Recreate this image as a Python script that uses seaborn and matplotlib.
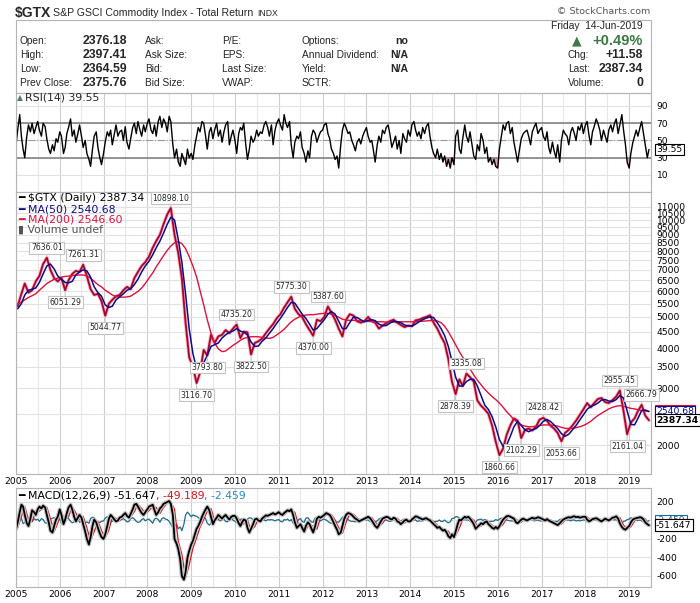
import pandas as pd
import matplotlib
matplotlib.use("Agg")
import matplotlib.pyplot as plt
import matplotlib.dates as mdates
import matplotlib.ticker as mticker
from matplotlib.patches import Rectangle
import seaborn as sns

# ---- data ----
# monthly closes (mid-month), Jan 2005 .. Jun 2019
price = [
    5400, 5900, 6350, 5950, 6050, 6450, 6700, 7300, 7636.01, 7000, 6600, 6450,
    6600, 6051.29, 6500, 6800, 6950, 6900, 7261.31, 6700, 6100, 5850, 5900, 5600,
    5044.77, 5500, 5650, 5800, 5850, 6050, 6200, 6100, 6600, 6900, 7200, 7400,
    7700, 8200, 8600, 9000, 9700, 10400, 10898.10, 9000, 7900, 6600, 4800, 3750,
    3500, 3116.70, 3350, 3950, 3793.80, 4400, 4150, 4350, 4400, 4550, 4450, 4600,
    4735.20, 4300, 4500, 4480, 3822.50, 4150, 4200, 4280, 4450, 4600, 4750, 4950,
    5100, 5350, 5550, 5775.30, 5300, 5100, 5000, 4750, 4550, 4370.00, 4900, 4850,
    5000, 5387.60, 5150, 4900, 4600, 4350, 4900, 5100, 5050, 4850, 4800, 4850,
    5000, 4850, 4800, 4600, 4700, 4780, 4850, 4900, 4800, 4720, 4650, 4700,
    4680, 4880, 4900, 4960, 5000, 5060, 4800, 4600, 4350, 4150, 3700, 3150,
    2878.39, 3200, 3050, 3335.08, 3250, 3150, 2750, 2650, 2580, 2500, 2300, 2050,
    1860.66, 1950, 2150, 2300, 2420, 2380, 2102.29, 2230, 2250, 2220, 2280, 2400,
    2428.42, 2380, 2300, 2250, 2180, 2053.66, 2180, 2230, 2300, 2380, 2480, 2580,
    2700, 2620, 2700, 2780, 2800, 2720, 2700, 2760, 2830, 2955.45, 2550, 2161.04,
    2350, 2420, 2550, 2666.79, 2470, 2387.34,
]
ma50 = [
    5300, 5500, 5850, 6050, 6100, 6150, 6400, 6800, 7200, 7300, 7050, 6700,
    6550, 6400, 6380, 6450, 6750, 6900, 7000, 6950, 6650, 6200, 5950, 5800,
    5450, 5350, 5400, 5650, 5770, 5900, 6050, 6120, 6300, 6550, 6900, 7200,
    7450, 7800, 8200, 8600, 9100, 9700, 10200, 10000, 8700, 7400, 5900, 4600,
    3850, 3450, 3350, 3600, 3800, 4050, 4100, 4150, 4300, 4400, 4480, 4520,
    4600, 4520, 4480, 4400, 4180, 4050, 4060, 4200, 4300, 4450, 4600, 4780,
    4950, 5150, 5350, 5550, 5520, 5300, 5100, 4950, 4750, 4550, 4600, 4750,
    4900, 5100, 5200, 5100, 4850, 4600, 4600, 4800, 5000, 4980, 4900, 4830,
    4880, 4900, 4870, 4750, 4700, 4700, 4780, 4850, 4830, 4800, 4720, 4690,
    4680, 4750, 4830, 4900, 4960, 5000, 4980, 4800, 4600, 4380, 4050, 3650,
    3250, 3050, 3050, 3150, 3200, 3200, 3050, 2850, 2660, 2580, 2450, 2280,
    2080, 1980, 2000, 2130, 2280, 2370, 2300, 2230, 2200, 2230, 2250, 2300,
    2370, 2400, 2370, 2310, 2250, 2170, 2130, 2160, 2230, 2300, 2390, 2480,
    2580, 2640, 2660, 2700, 2760, 2770, 2740, 2730, 2770, 2850, 2800, 2550,
    2320, 2310, 2420, 2560, 2570, 2540.68,
]
ma200 = [
    5500, 5550, 5650, 5750, 5820, 5900, 6050, 6200, 6350, 6450, 6550, 6600,
    6650, 6680, 6700, 6720, 6740, 6750, 6750, 6700, 6600, 6450, 6300, 6200,
    6050, 5950, 5850, 5780, 5760, 5760, 5770, 5800, 5900, 6000, 6150, 6350,
    6600, 6850, 7150, 7450, 7750, 8050, 8300, 8500, 8560, 8450, 8150, 7700,
    7200, 6650, 6050, 5450, 4900, 4450, 4150, 3980, 3900, 3920, 4000, 4080,
    4150, 4230, 4290, 4320, 4340, 4340, 4340, 4320, 4300, 4290, 4320, 4400,
    4480, 4580, 4700, 4830, 4920, 4990, 5040, 5070, 5080, 5080, 5100, 5120,
    5130, 5130, 5100, 5050, 4990, 4920, 4890, 4880, 4880, 4870, 4860, 4850,
    4840, 4840, 4830, 4830, 4830, 4820, 4820, 4820, 4830, 4830, 4830, 4830,
    4830, 4830, 4840, 4850, 4860, 4870, 4870, 4860, 4800, 4680, 4500, 4300,
    4100, 3900, 3750, 3600, 3450, 3300, 3180, 3080, 2980, 2900, 2830, 2770,
    2700, 2620, 2540, 2470, 2400, 2350, 2310, 2290, 2280, 2280, 2290, 2300,
    2310, 2310, 2310, 2300, 2290, 2270, 2255, 2250, 2255, 2265, 2280, 2300,
    2330, 2370, 2420, 2470, 2510, 2550, 2590, 2620, 2640, 2650, 2640, 2620,
    2600, 2590, 2575, 2560, 2550, 2546.60,
]
macd_signal = [
    -80, 40, 150, 10, -10, 95, 100, 140, 145, 20, -120, -30,
    80, 10, 40, 150, 80, 10, 45, -80, -220, -120, -10, -110,
    -190, -100, 40, 25, -5, 35, 70, 40, 95, 175, 130, 70,
    105, 155, 140, 75, 140, 185, 205, 120, -225, -365, -620, -480,
    -300, -185, -75, 10, 100, 130, 0, 15, 50, 35, 45, 25,
    50, -5, -40, 5, -105, -65, 15, -5, 30, 52, 65, 72,
    82, 65, 88, 105, 90, -50, -50, -100, -40, -65, -95, 30,
    38, 70, 65, 5, -80, -140, -20, 70, 68, 30, 0, 5,
    25, 32, -15, -70, -30, 25, 38, 15, 25, -15, -30, 5,
    -10, 20, 42, 25, 15, 17, -10, -50, -75, -100, -115, -180,
    -165, -80, 5, 30, 35, 5, -65, -60, -35, -15, -50, -85,
    -80, -40, 20, 48, 35, 0, -20, 15, 5, 15, 25, 30,
    25, 5, 8, -15, -35, -40, 0, 25, 32, 42, 38, 32,
    40, 0, 8, 22, 8, -2, 15, 8, 32, 32, -50, -95,
    -70, -5, 22, 32, 20, -49.189,
]

# semi-monthly readings (1st and 15th), Jan 2005 .. Jun 2019
rsi = [
    45, 62, 80, 55, 40, 30, 55, 68, 60, 70, 58, 65, 72, 62, 55, 70, 66, 52, 40, 35, 45, 38, 52, 48,
    60, 55, 35, 42, 58, 65, 75, 55, 62, 48, 58, 68, 55, 42, 50, 35, 28, 20, 40, 55, 60, 42, 30, 22,
    35, 48, 60, 55, 62, 45, 58, 68, 55, 60, 62, 50, 66, 48, 40, 52, 65, 70, 58, 72, 62, 55, 68, 60,
    70, 75, 62, 58, 68, 55, 72, 78, 65, 75, 70, 60, 78, 72, 45, 30, 40, 25, 20, 35, 28, 22, 40, 30,
    35, 28, 45, 55, 65, 60, 72, 70, 55, 40, 60, 65, 52, 62, 70, 55, 62, 48, 60, 68, 72, 45, 55, 62,
    50, 35, 58, 65, 62, 70, 45, 28, 40, 55, 48, 52, 62, 55, 60, 58, 68, 72, 65, 55, 68, 45, 62, 70,
    75, 68, 62, 80, 70, 65, 72, 45, 30, 48, 55, 52, 60, 42, 35, 25, 38, 30, 55, 62, 58, 48, 55, 60,
    62, 68, 70, 58, 52, 40, 35, 28, 32, 18, 45, 62, 70, 65, 58, 60, 50, 45, 38, 48, 52, 46, 55, 60,
    65, 55, 48, 50, 38, 25, 45, 55, 48, 62, 58, 65, 68, 58, 42, 48, 55, 40, 50, 35, 58, 52, 48, 62,
    55, 68, 72, 62, 55, 60, 52, 65, 58, 66, 70, 55, 42, 35, 30, 40, 28, 35, 25, 32, 20, 28, 18, 30,
    22, 55, 62, 40, 35, 52, 68, 55, 48, 60, 45, 32, 28, 45, 38, 58, 50, 35, 42, 25, 30, 22, 28, 20,
    18, 40, 55, 68, 62, 70, 72, 58, 65, 48, 35, 25, 40, 52, 58, 60, 62, 55, 45, 60, 66, 70, 58, 62,
    65, 55, 50, 60, 42, 35, 48, 38, 30, 45, 25, 50, 62, 58, 55, 45, 60, 65, 58, 50, 66, 62, 70, 58,
    68, 72, 55, 45, 60, 66, 75, 70, 62, 50, 62, 55, 48, 62, 68, 60, 70, 75, 58, 68, 80, 62, 45, 25,
    18, 35, 48, 55, 62, 55, 65, 72, 58, 45, 30, 39.55,
]
macd = [
    -95, -20, 90, 170, 150, 60, -30, -60, 20, 110, 90, 60, 120, 150, 130, 160, 140, 60, -20, -110, -130, -60, 10, 40,
    120, 60, -40, 10, 80, 140, 170, 120, 40, -10, 30, 60, 30, -40, -120, -200, -260, -180, -60, 10, -20, -80, -140, -180,
    -200, -150, -60, 20, 60, 40, 10, -10, 0, 30, 40, 60, 80, 50, 30, 70, 120, 170, 180, 150, 110, 80, 60, 90,
    120, 150, 160, 170, 110, 60, 90, 130, 150, 180, 190, 200, 210, 180, 60, -200, -250, -310, -420, -600, -640, -560, -400, -330,
    -260, -220, -150, -90, -60, -20, 40, 80, 120, 150, 110, 40, -40, 0, 30, 60, 40, 20, 45, 60, 30, 10, 40, 50,
    50, 20, -30, -60, -20, 10, 0, -80, -130, -90, -40, 10, 20, 0, -10, 20, 40, 55, 50, 60, 70, 80, 65, 75,
    90, 70, 60, 80, 95, 110, 100, 120, 60, -20, -80, -60, -40, -80, -120, -60, -20, -40, -90, -130, -60, 20, 40, 30,
    45, 60, 80, 70, 60, 30, -20, -60, -100, -150, -130, -60, 20, 60, 80, 75, 60, 40, 20, 10, -10, 0, 10, 20,
    30, 40, 25, 0, -30, -60, -80, -50, -10, 20, 30, 40, 35, 20, 10, 30, 20, -10, -20, -40, -20, 0, 10, -10,
    -10, 10, 30, 45, 40, 30, 20, 10, 20, 25, 10, 0, -20, -40, -60, -80, -70, -90, -110, -100, -130, -170, -190, -150,
    -180, -120, -40, 10, 0, 20, 40, 30, 40, 20, -10, -40, -90, -70, -50, -30, -40, -20, -10, -40, -60, -80, -90, -70,
    -90, -60, -20, 10, 30, 45, 50, 40, 30, 20, -20, -30, -10, 10, 20, 10, 0, 10, 20, 30, 20, 25, 35, 30,
    20, 10, 0, 15, 0, -10, -20, -30, -40, -50, -30, -10, 10, 20, 30, 35, 30, 40, 45, 35, 40, 30, 35, 40,
    40, 10, -10, 0, 15, 20, 25, 15, 0, -10, 5, 20, 10, 0, 15, 30, 35, 45, 20, -30, -70, -90, -100, -80,
    -60, -20, 10, 20, 25, 30, 35, 30, 10, -20, -40, -51.647,
]
macd_hist = [
    -20, 30, 40, 25, -35, -20, 15, 30, 10, -15, 20, 5, 15, -10, 20, 10, -25, -30, -20, 15, 25, 30, 10, 5,
    20, -25, -30, 15, 30, 20, -10, -25, -15, 10, 15, -20, -10, -30, -25, -15, -30, 20, 35, 30, -15, -25, -20, -10,
    -5, 25, 40, 10, -15, -10, 10, 5, -10, 15, 10, 20, 5, -15, -10, 20, 30, 15, -10, -20, -15, 10, 20, -5,
    10, 15, -10, -30, 15, 25, 10, -20, 20, 30, 15, 10, -10, -40, -80, -60, -40, -90, -70, -110, -40, 60, 90, 70,
    40, 60, 50, 45, 30, 20, 40, 35, 20, -30, -50, -30, 10, 25, 15, 10, -5, 5, 15, -10, -15, 10, 20, 5,
    -10, -20, -15, 10, 20, -30, -35, 15, 30, 25, 10, 15, -5, 5, 10, 15, 5, -5, 10, 5, 10, 5, -5, 5,
    10, -10, -15, 10, 5, 15, -5, 10, -30, -40, -25, 10, 20, -10, -20, 25, 30, 5, -15, -20, 30, 35, 10, -5,
    10, 15, 5, -10, -25, -30, -20, -25, -15, -20, 10, 35, 45, 20, 10, -5, -10, -10, -15, -10, -10, 5, 5, 10,
    5, 5, -10, -15, -20, -15, -5, 15, 25, 20, 5, 5, -5, -10, -5, 10, -5, -15, -10, -10, 10, 15, 5, -10,
    0, 10, 10, 5, -10, -5, -5, -5, 5, 5, -5, -10, -15, -15, -10, -10, 5, -10, -10, 5, -15, -25, -15, 20,
    25, 40, 40, 25, 5, 0, 10, 5, 5, -10, -20, -25, -20, 5, 10, 15, 0, 10, 5, -15, -10, -10, -5, 10,
    0, 15, 25, 20, 15, 5, 0, -5, -5, -10, -25, -15, 5, 15, 10, -5, -5, 0, 5, 10, -5, 0, 5, -5,
    -5, -5, -5, 10, -5, -10, -10, -10, -10, -10, 10, 15, 15, 10, 5, 5, -5, 5, 5, -5, 0, -5, 0, 5,
    5, -15, -10, 5, 5, 0, 5, -5, -10, -10, 5, 10, -5, -5, 10, 15, 5, 10, -15, -35, -30, -10, -5, 10,
    15, 30, 20, 5, 5, 0, 5, -5, -15, -20, -10, -2.459,
]

# labelled swing points on the price line
swing_values = [7636.01, 6051.29, 7261.31, 5044.77, 10898.10, 3116.70, 3793.80,
                4735.20, 3822.50, 5775.30, 4370.00, 5387.60, 2878.39, 3335.08,
                1860.66, 2102.29, 2428.42, 2053.66, 2955.45, 2161.04, 2666.79]
swing_is_high = [True, False, True, False, True, False, False,
                 True, False, True, False, True, False, True,
                 False, False, True, False, True, False, True]

price_ticks = [2000, 2500, 3000, 3500, 4000, 4500, 5000, 5500, 6000, 6500, 7000,
               7500, 8000, 8500, 9000, 9500, 10000, 10500, 11000]

months = pd.date_range("2005-01-01", "2019-06-01", freq="MS") + pd.Timedelta(days=14)
halfmonths = pd.date_range("2005-01-01", "2019-06-15", freq="SMS")

df_m = pd.DataFrame({"date": months, "price": price, "ma50": ma50,
                     "ma200": ma200, "signal": macd_signal})
df_h = pd.DataFrame({"date": halfmonths, "rsi": rsi, "macd": macd, "hist": macd_hist})

# ---- figure ----
sns.set_style("white")
plt.rcParams["font.family"] = ["DejaVu Sans"]

W, H = 700, 603
fig = plt.figure(figsize=(7, 6.03), dpi=100)


def rect(x0, y0, x1, y1):
    return [x0 / W, 1 - y1 / H, (x1 - x0) / W, (y1 - y0) / H]


def ftext(x, y, s, **kw):
    kw.setdefault("va", "center")
    return fig.text(x / W, 1 - y / H, s, **kw)


ax_rsi = fig.add_axes(rect(16, 93, 651, 192))
ax_px = fig.add_axes(rect(16, 192, 651, 474))
ax_macd = fig.add_axes(rect(16, 488, 651, 587))

GRID = "#e2e2e2"
FRAME = "#b4b4b4"
xmin = mdates.date2num(pd.Timestamp("2005-01-01"))
xmax = mdates.date2num(pd.Timestamp("2019-07-02"))

for ax in (ax_rsi, ax_px, ax_macd):
    ax.set_axisbelow(True)
    for sp in ax.spines.values():
        sp.set_color(FRAME)
        sp.set_linewidth(0.8)

# RSI panel
sns.lineplot(data=df_h, x="date", y="rsi", ax=ax_rsi, color="black", lw=1.0, estimator=None)
ax_rsi.fill_between(df_h["date"], df_h["rsi"], 30, where=df_h["rsi"] < 30,
                    interpolate=True, color="#e3a3b3", lw=0)
ax_rsi.axhline(70, color="#7a7a7a", lw=1.1, zorder=1)
ax_rsi.axhline(30, color="#7a7a7a", lw=1.1, zorder=1)
ax_rsi.axhline(50, color="#9a9a9a", lw=0.8, ls="-.", zorder=1)
ax_rsi.set_ylim(-9.7, 105)
ax_rsi.set_yticks([90, 70, 50, 30, 10])

# price panel
sns.lineplot(data=df_m, x="date", y="price", ax=ax_px, color="#f5cbd6", lw=2.8, estimator=None)
sns.lineplot(data=df_m, x="date", y="price", ax=ax_px, color="#d3123f", lw=1.5, estimator=None)
sns.lineplot(data=df_m, x="date", y="price", ax=ax_px, color="#2a0a10", lw=0.35,
             alpha=0.8, estimator=None)
sns.lineplot(data=df_m, x="date", y="ma200", ax=ax_px, color="#e0103c", lw=1.0, estimator=None)
sns.lineplot(data=df_m, x="date", y="ma50", ax=ax_px, color="#0b0b8f", lw=1.1, estimator=None)
ax_px.set_yscale("log")
ax_px.set_ylim(1626, 12220)
ax_px.yaxis.set_major_locator(mticker.FixedLocator(price_ticks))
ax_px.yaxis.set_major_formatter(mticker.FixedFormatter(
    ["" if v == 2500 else str(v) for v in price_ticks]))
ax_px.yaxis.set_minor_locator(mticker.NullLocator())

for v, hi in zip(swing_values, swing_is_high):
    d = mdates.date2num(months[price.index(v)])
    ax_px.annotate(f"{v:.2f}", xy=(d, v), xytext=(0, 10 if hi else -12),
                   textcoords="offset pixels", ha="center", va="center", fontsize=5.6,
                   bbox=dict(boxstyle="square,pad=0.18", fc="white", ec="#c4c4c4", lw=0.8),
                   arrowprops=dict(arrowstyle="-", color="#c4c4c4", lw=0.8,
                                   shrinkA=0, shrinkB=1), zorder=6)

# MACD panel
sns.lineplot(data=df_h, x="date", y="hist", ax=ax_macd, color="#1f6b8e", lw=0.9, estimator=None)
sns.lineplot(data=df_m, x="date", y="signal", ax=ax_macd, color="#e01020", lw=0.9, estimator=None)
sns.lineplot(data=df_h, x="date", y="macd", ax=ax_macd, color="#c4c4c4", lw=3.0, estimator=None)
sns.lineplot(data=df_h, x="date", y="macd", ax=ax_macd, color="black", lw=1.3, estimator=None)
ax_macd.set_ylim(-719, 351)
ax_macd.set_yticks([200, 0, -200, -400, -600])
ax_macd.set_yticklabels(["200", "", "-200", "-400", "-600"])

for ax in (ax_rsi, ax_px, ax_macd):
    ax.set_xlim(xmin, xmax)
    ax.set_xlabel("")
    ax.set_ylabel("")
    ax.xaxis.set_major_locator(mdates.YearLocator())
    ax.xaxis.set_minor_locator(mdates.MonthLocator(bymonth=7))
    ax.xaxis.set_major_formatter(mdates.DateFormatter("%Y"))
    ax.yaxis.tick_right()
    ax.tick_params(axis="both", which="both", length=0, labelsize=6.6, colors="black")
    ax.tick_params(axis="y", pad=4)
    ax.tick_params(axis="x", pad=2)
    ax.grid(True, axis="x", which="major", color="#cdcdcd", lw=0.8)
    ax.grid(True, axis="x", which="minor", color="#e8e8e8", lw=0.8)
    ax.grid(True, axis="y", which="major", color=GRID, lw=0.8)
ax_rsi.tick_params(axis="x", labelbottom=False)


# value tags at the right edge
def tag(ax, val, text, ec, color, weight="normal", z=7):
    ax.annotate(text, xy=(1, val), xycoords=ax.get_yaxis_transform(), xytext=(5, 0),
                textcoords="offset pixels", ha="left", va="center", fontsize=6.7,
                color=color, fontweight=weight, zorder=z, annotation_clip=False,
                bbox=dict(boxstyle="square,pad=0.15", fc="white", ec=ec, lw=0.8))


tag(ax_rsi, rsi[-1], f"{rsi[-1]:.2f}", "black", "black")
tag(ax_px, ma200[-1], f"{ma200[-1]:.2f}", "#e0103c", "#e0103c", z=7)
tag(ax_px, ma50[-1], f"{ma50[-1]:.2f}", "#0b0b8f", "#0b0b8f", z=8)
tag(ax_px, price[-1], f"{price[-1]:.2f}", "black", "black", weight="bold", z=9)
tag(ax_macd, macd_hist[-1], f"{macd_hist[-1]:.3f}", "#1f6b8e", "#1f6b8e", z=7)
tag(ax_macd, macd_signal[-1], f"{macd_signal[-1]:.3f}", "#e01020", "#e01020", z=8)
tag(ax_macd, macd[-1], f"{macd[-1]:.3f}", "black", "black", z=9)

# panel legends
ftext(17, 98, "▲", color="#4f7f5c", fontsize=5.5)
ftext(25, 98, f"RSI(14) {rsi[-1]:.2f}", fontsize=7.8)
ftext(18, 198, f"━ $GTX (Daily) {price[-1]:.2f}", fontsize=7.8, color="black")
ftext(18, 209, f"━ MA(50) {ma50[-1]:.2f}", fontsize=7.8, color="#0b0b8f")
ftext(18, 219.5, f"━ MA(200) {ma200[-1]:.2f}", fontsize=7.8, color="#e0103c")
ftext(18, 230, "▮ Volume undef", fontsize=7.8, color="#555555")
t1 = ftext(18, 496, f"━ MACD(12,26,9) {macd[-1]:.3f}", fontsize=7.8, color="black")
t2 = ax_macd.annotate(f", {macd_signal[-1]:.3f}", xy=(1, 0), xycoords=t1, ha="left",
                      va="bottom", fontsize=7.8, color="#e01020", annotation_clip=False)
ax_macd.annotate(f", {macd_hist[-1]:.3f}", xy=(1, 0), xycoords=t2, ha="left",
                 va="bottom", fontsize=7.8, color="#2a8bc0", annotation_clip=False)

# ---- header ----
HF = ["Liberation Sans", "DejaVu Sans"]
ftext(15, 13, "$GTX", fontsize=10, fontweight="bold", family=HF)
ftext(53, 13.5, "S&P GSCI Commodity Index - Total Return", fontsize=7.6, family=HF)
ftext(257, 14, "INDX", fontsize=6.2, family=HF)
ftext(650, 12, "© StockCharts.com", fontsize=6.8, color="#555555", ha="right")
fig.add_artist(Rectangle((16 / W, 1 - 93 / H), 635 / W, 73 / H, transform=fig.transFigure,
                         fill=False, ec=FRAME, lw=0.8))

rows_y = [41, 55, 69, 83]
col1 = ["Open:", "High:", "Low:", "Prev Close:"]
col1_vals = ["2376.18", "2397.41", "2364.59", "2375.76"]
col2 = ["Ask:", "Ask Size:", "Bid:", "Bid Size:"]
col3 = ["P/E:", "EPS:", "Last Size:", "VWAP:"]
col4 = ["Options:", "Annual Dividend:", "Yield:", "SCTR:"]
col4_vals = ["no", "N/A", "N/A", ""]
for y, a, av, b, c, d, dv in zip(rows_y, col1, col1_vals, col2, col3, col4, col4_vals):
    ftext(20, y, a, fontsize=7.3, family=HF)
    ftext(127, y, av, fontsize=8.8, fontweight="bold", ha="right", family=HF)
    ftext(145, y, b, fontsize=7.3, family=HF)
    ftext(222, y, c, fontsize=7.3, family=HF)
    ftext(302, y, d, fontsize=7.3, family=HF)
    ftext(408, y, dv, fontsize=7.6, fontweight="bold", ha="right", family=HF)

ftext(643, 26, "Friday  14-Jun-2019", fontsize=7.4, ha="right", family=HF)
ftext(577, 41, "▲", fontsize=9, color="#3d7a46", ha="center")
ftext(643, 41, "+0.49%", fontsize=10.5, fontweight="bold", color="#3a7a3f", ha="right", family=HF)
ftext(568, 55, "Chg:", fontsize=7.3, family=HF)
ftext(643, 55, "+11.58", fontsize=8.8, fontweight="bold", ha="right", family=HF)
ftext(568, 69, "Last:", fontsize=7.3, family=HF)
ftext(643, 69, f"{price[-1]:.2f}", fontsize=8.8, fontweight="bold", ha="right", family=HF)
ftext(568, 83, "Volume:", fontsize=7.3, family=HF)
ftext(643, 83, "0", fontsize=8.8, fontweight="bold", ha="right", family=HF)

fig.savefig("out.png", dpi=100)
